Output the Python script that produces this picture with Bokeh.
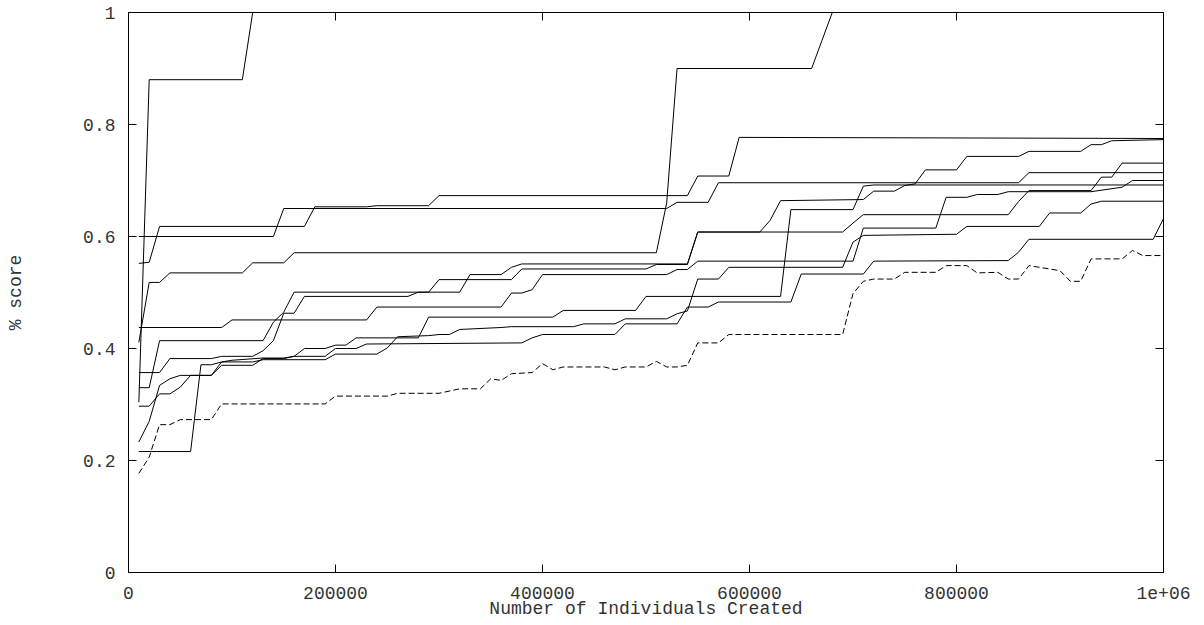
from bokeh.plotting import figure
from bokeh.models import FixedTicker, LinearAxis, Range1d
from bokeh.embed import file_html
from bokeh.resources import INLINE

FONT = "Liberation Mono"

x_ticks = [0, 200000, 400000, 600000, 800000, 1000000]
x_tick_labels = ["0", "200000", "400000", "600000", "800000", "1e+06"]
y_ticks = [0, 0.2, 0.4, 0.6, 0.8, 1.0]
y_tick_labels = ["0", "0.2", "0.4", "0.6", "0.8", "1"]

run_a_x = [10000, 20000, 110000, 120000, 1000000]
run_a_y = [0.304, 0.88, 0.88, 1.0, 1.0]

run_b_x = [10000, 20000, 30000, 40000, 110000, 120000, 150000, 160000, 510000, 520000, 530000, 660000, 670000, 680000, 1000000]
run_b_y = [0.411, 0.518, 0.518, 0.535, 0.535, 0.553, 0.553, 0.571, 0.571, 0.66, 0.90, 0.90, 0.95, 1.0, 1.0]

run_c_x = [10000, 20000, 30000, 170000, 180000, 230000, 240000, 290000, 300000, 540000, 550000, 580000, 590000, 1000000]
run_c_y = [0.552, 0.554, 0.618, 0.618, 0.653, 0.653, 0.655, 0.655, 0.673, 0.673, 0.708, 0.708, 0.777, 0.775]

run_d_x = [10000, 140000, 150000, 520000, 530000, 560000, 570000, 860000, 870000, 1000000]
run_d_y = [0.60, 0.60, 0.65, 0.65, 0.661, 0.661, 0.696, 0.696, 0.714, 0.714]

run_f_x = [10000, 90000, 100000, 230000, 240000, 360000, 370000, 380000, 390000, 400000, 520000, 530000, 540000, 550000, 700000, 710000, 780000, 790000, 810000, 820000, 840000, 850000, 930000, 960000, 970000, 1000000]
run_f_y = [0.4375, 0.4375, 0.451, 0.451, 0.474, 0.474, 0.499, 0.499, 0.505, 0.532, 0.532, 0.541, 0.541, 0.556, 0.556, 0.615, 0.615, 0.67, 0.67, 0.675, 0.675, 0.68, 0.68, 0.688, 0.70, 0.70]

run_g_x = [10000, 30000, 40000, 80000, 90000, 120000, 130000, 140000, 150000, 160000, 170000, 270000, 280000, 290000, 300000, 370000, 380000, 500000, 510000, 540000, 550000, 690000, 700000, 710000, 850000, 860000, 870000, 930000, 940000, 950000, 960000, 1000000]
run_g_y = [0.357, 0.357, 0.382, 0.382, 0.386, 0.386, 0.396, 0.414, 0.463, 0.463, 0.493, 0.493, 0.5006, 0.5006, 0.523, 0.523, 0.542, 0.542, 0.55, 0.55, 0.608, 0.608, 0.624, 0.639, 0.639, 0.6625, 0.682, 0.682, 0.706, 0.706, 0.731, 0.731]

run_h_x = [10000, 20000, 30000, 130000, 140000, 150000, 160000, 320000, 330000, 360000, 370000, 380000, 540000, 550000, 610000, 620000, 630000, 710000, 720000, 740000, 750000, 760000, 770000, 800000, 810000, 860000, 870000, 920000, 930000, 940000, 950000, 1000000]
run_h_y = [0.33, 0.33, 0.414, 0.414, 0.447, 0.465, 0.5006, 0.5006, 0.532, 0.532, 0.545, 0.551, 0.551, 0.608, 0.608, 0.629, 0.664, 0.666, 0.681, 0.681, 0.691, 0.694, 0.719, 0.719, 0.743, 0.743, 0.752, 0.752, 0.764, 0.764, 0.771, 0.773]

run_i_x = [10000, 20000, 30000, 40000, 50000, 60000, 80000, 90000, 120000, 130000, 150000, 160000, 190000, 200000, 220000, 230000, 380000, 390000, 400000, 470000, 480000, 530000, 540000, 560000, 570000, 640000, 650000, 710000, 720000, 850000, 860000, 870000, 990000, 1000000]
run_i_y = [0.297, 0.297, 0.319, 0.319, 0.331, 0.352, 0.352, 0.37, 0.37, 0.382, 0.382, 0.386, 0.386, 0.40, 0.40, 0.408, 0.41, 0.419, 0.425, 0.425, 0.444, 0.444, 0.474, 0.474, 0.483, 0.483, 0.533, 0.533, 0.556, 0.557, 0.572, 0.595, 0.595, 0.632]

run_j_x = [10000, 20000, 30000, 40000, 50000, 80000, 90000, 100000, 130000, 150000, 160000, 170000, 190000, 200000, 210000, 220000, 280000, 290000, 410000, 420000, 490000, 500000, 630000, 640000, 700000, 710000, 720000, 1000000]
run_j_y = [0.233, 0.27, 0.334, 0.346, 0.352, 0.352, 0.376, 0.379, 0.383, 0.383, 0.386, 0.40, 0.40, 0.406, 0.406, 0.419, 0.419, 0.456, 0.456, 0.468, 0.468, 0.493, 0.493, 0.648, 0.648, 0.69, 0.692, 0.692]

run_k_x = [10000, 60000, 70000, 80000, 90000, 120000, 130000, 190000, 200000, 240000, 250000, 260000, 290000, 300000, 310000, 320000, 360000, 370000, 430000, 440000, 470000, 480000, 520000, 530000, 540000, 550000, 570000, 580000, 690000, 700000, 710000, 800000, 810000, 880000, 890000, 920000, 930000, 940000, 1000000]
run_k_y = [0.216, 0.216, 0.371, 0.371, 0.376, 0.376, 0.38, 0.38, 0.39, 0.39, 0.401, 0.421, 0.423, 0.425, 0.425, 0.434, 0.4375, 0.439, 0.439, 0.444, 0.444, 0.453, 0.453, 0.462, 0.467, 0.524, 0.524, 0.545, 0.545, 0.59, 0.602, 0.604, 0.618, 0.618, 0.642, 0.642, 0.658, 0.663, 0.663]

base_x = [10000, 20000, 30000, 40000, 50000, 80000, 90000, 190000, 200000, 250000, 260000, 300000, 320000, 340000, 350000, 360000, 370000, 390000, 400000, 410000, 420000, 460000, 470000, 480000, 500000, 510000, 520000, 530000, 540000, 550000, 570000, 580000, 690000, 700000, 710000, 720000, 740000, 750000, 780000, 790000, 810000, 820000, 840000, 850000, 860000, 870000, 880000, 900000, 910000, 920000, 930000, 960000, 970000, 980000, 1000000]
base_y = [0.177, 0.206, 0.264, 0.264, 0.273, 0.273, 0.301, 0.301, 0.315, 0.315, 0.32, 0.32, 0.328, 0.328, 0.346, 0.343, 0.355, 0.357, 0.373, 0.362, 0.367, 0.367, 0.362, 0.367, 0.367, 0.377, 0.367, 0.367, 0.37, 0.41, 0.41, 0.425, 0.425, 0.498, 0.52, 0.524, 0.524, 0.536, 0.536, 0.548, 0.548, 0.535, 0.536, 0.524, 0.524, 0.548, 0.545, 0.539, 0.52, 0.52, 0.56, 0.56, 0.575, 0.566, 0.566]

solid_runs = [
    (run_a_x, run_a_y), (run_b_x, run_b_y), (run_c_x, run_c_y), (run_d_x, run_d_y),
    (run_f_x, run_f_y), (run_g_x, run_g_y), (run_h_x, run_h_y), (run_i_x, run_i_y),
    (run_j_x, run_j_y), (run_k_x, run_k_y),
]

p = figure(
    width=1196, height=622,
    x_range=Range1d(0, 1000000), y_range=Range1d(0, 1),
    output_backend="svg", toolbar_location=None,
    min_border_left=128, min_border_right=33, min_border_top=12, min_border_bottom=50,
    background_fill_color="white", border_fill_color="white",
)
p.xgrid.visible = False
p.ygrid.visible = False
p.outline_line_color = "black"
p.outline_line_width = 1

for xs, ys in solid_runs:
    p.line(xs, ys, line_color="black", line_width=1)
p.line(base_x, base_y, line_color="black", line_width=1, line_dash="6 3")


def style_axis(ax, labels=True):
    ax.major_tick_in = 8
    ax.major_tick_out = 0
    ax.minor_tick_line_color = None
    ax.axis_line_color = "black"
    ax.major_tick_line_color = "black"
    ax.major_label_text_font = FONT
    ax.major_label_text_font_size = "18px"
    ax.major_label_text_color = "#333333"
    ax.axis_label_text_font = FONT
    ax.axis_label_text_font_size = "18px"
    ax.axis_label_text_font_style = "normal"
    ax.axis_label_text_color = "#333333"
    if not labels:
        ax.major_label_text_font_size = "0px"
        ax.major_label_text_alpha = 0


xa = p.xaxis[0]
xa.ticker = FixedTicker(ticks=x_ticks)
xa.major_label_overrides = {t: l for t, l in zip(x_ticks, x_tick_labels)}
style_axis(xa)
xa.major_label_standoff = 14
xa.axis_label = "Number of Individuals Created"
xa.axis_label_standoff = -3

ya = p.yaxis[0]
ya.ticker = FixedTicker(ticks=y_ticks)
ya.major_label_overrides = {t: l for t, l in zip(y_ticks, y_tick_labels)}
style_axis(ya)
ya.major_label_standoff = 13
ya.axis_label = "% score"
ya.axis_label_standoff = 54

top = LinearAxis(ticker=FixedTicker(ticks=x_ticks))
style_axis(top, labels=False)
p.add_layout(top, "above")
right = LinearAxis(ticker=FixedTicker(ticks=y_ticks))
style_axis(right, labels=False)
p.add_layout(right, "right")

open("out.html", "w").write(file_html(p, INLINE))
